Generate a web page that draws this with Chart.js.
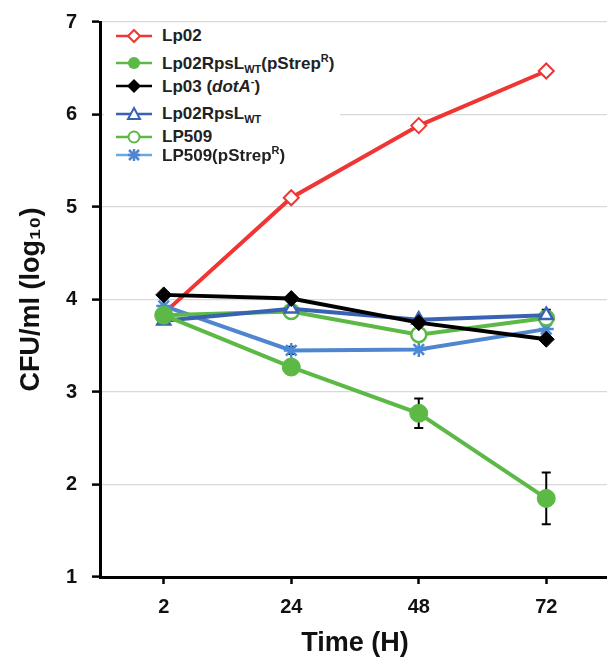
<!DOCTYPE html>
<html>
<head>
<meta charset="utf-8">
<script src="https://cdn.jsdelivr.net/npm/chart.js@4"></script>
<style>
  html, body { margin: 0; padding: 0; background: #fff; overflow: hidden; }
  #wrap { position: relative; width: 607px; height: 657px; overflow: hidden; }
  #legend {
    position: absolute; left: 104px; top: 23px; width: 236px; height: 142px;
    background: #fff; font-family: "Liberation Sans", Arial, sans-serif;
    font-weight: bold; font-size: 17px; color: #222;
  }
  .row { position: absolute; left: 12px; height: 20px; display: flex; align-items: center; white-space: nowrap; }
  .row svg { margin-right: 10px; flex: none; }
  sub, sup { font-size: 11px; }
  sub { vertical-align: -4px; }
  sup { vertical-align: 7px; }
</style>
</head>
<body>
<div id="wrap">
  <canvas id="myChart" width="620" height="657"></canvas>
  <div id="legend"></div>
</div>
<script>
// data
var timeLabels = ["2", "24", "48", "72"];
var lp02 = [3.85, 5.10, 5.88, 6.47];
var lp02RpsLStrep = [3.83, 3.27, 2.77, 1.85];
var lp02RpsLStrepErr = [0, 0.03, 0.16, 0.28];
var lp03 = [4.05, 4.01, 3.75, 3.57];
var lp02RpsL = [3.77, 3.90, 3.78, 3.83];
var lp02RpsLErr = [0, 0, 0, 0.06];
var lp509 = [3.83, 3.87, 3.62, 3.80];
var lp509Strep = [3.93, 3.45, 3.46, 3.68];
var lp509StrepErr = [0, 0.04, 0, 0];

var RED = '#f03535', GREEN = '#5cb946', BLACK = '#000', BLUE = '#3a62b4', LBLUE = '#4f86cf';

// legend rows (html so sub/superscripts work)
var legendRows = [
  { top: 3, html: 'Lp02', icon: '<path d="M18 4 L24 10 L18 16 L12 10 Z" fill="#fff" stroke="' + RED + '" stroke-width="2"/>', color: RED },
  { top: 30, html: 'Lp02RpsL<sub>WT</sub>(pStrep<sup>R</sup>)', icon: '<circle cx="18" cy="10" r="6" fill="' + GREEN + '"/>', color: GREEN },
  { top: 53, html: 'Lp03 (<i>dotA</i><sup>-</sup>)', icon: '<path d="M18 3 L25 10 L18 17 L11 10 Z" fill="#000"/>', color: BLACK },
  { top: 81, html: 'Lp02RpsL<sub>WT</sub>', icon: '<path d="M18 4 L24 15 L12 15 Z" fill="#fff" stroke="' + BLUE + '" stroke-width="2"/>', color: BLUE },
  { top: 104, html: 'LP509', icon: '<circle cx="18" cy="10" r="5.5" fill="#fff" stroke="' + GREEN + '" stroke-width="2"/>', color: GREEN },
  { top: 122, html: 'LP509(pStrep<sup>R</sup>)', icon: '<path d="M13 5 L23 15 M23 5 L13 15 M18 4 L18 16 M12 10 L24 10" stroke="' + LBLUE + '" stroke-width="2.5"/>', color: '#6aa8e0' }
];
var lg = document.getElementById('legend');
legendRows.forEach(function (r) {
  var d = document.createElement('div');
  d.className = 'row';
  d.style.top = r.top + 'px';
  d.innerHTML = '<svg width="36" height="20"><line x1="0" y1="10" x2="36" y2="10" stroke="' + r.color + '" stroke-width="2.5"/>' + r.icon + '</svg><span>' + r.html + '</span>';
  lg.appendChild(d);
});

// error bars drawn with the y scale
var errorBars = {
  id: 'errorBars',
  beforeDatasetsDraw: function (chart) {
    var ctx = chart.ctx, y = chart.scales.y;
    chart.data.datasets.forEach(function (ds, i) {
      if (!ds.errors) return;
      var meta = chart.getDatasetMeta(i);
      ctx.save();
      ctx.strokeStyle = '#000';
      ctx.lineWidth = 2;
      ds.errors.forEach(function (e, j) {
        if (!e) return;
        var x = meta.data[j].x;
        var top = y.getPixelForValue(ds.data[j] + e), bot = y.getPixelForValue(ds.data[j] - e);
        ctx.beginPath();
        ctx.moveTo(x, top); ctx.lineTo(x, bot);
        ctx.moveTo(x - 4.5, top); ctx.lineTo(x + 4.5, top);
        ctx.moveTo(x - 4.5, bot); ctx.lineTo(x + 4.5, bot);
        ctx.stroke();
      });
      ctx.restore();
    });
  }
};

var tickFont = { family: 'Liberation Sans', weight: 'bold', size: 20 };
var titleFont = { family: 'Liberation Sans', weight: 'bold', size: 27 };

var ctx = document.getElementById('myChart').getContext('2d');
var chart = new Chart(ctx, {
  type: 'line',
  data: {
    labels: timeLabels,
    datasets: [
      { label: 'Lp02', data: lp02, borderColor: RED, backgroundColor: '#fff', pointStyle: 'rectRot', pointRadius: 7.5, pointBorderWidth: 2, order: 6 },
      { label: 'Lp02RpsLWT(pStrepR)', data: lp02RpsLStrep, errors: lp02RpsLStrepErr, borderColor: GREEN, backgroundColor: GREEN, pointStyle: 'circle', pointRadius: 9, order: 1 },
      { label: 'Lp03 (dotA-)', data: lp03, borderColor: BLACK, backgroundColor: BLACK, pointStyle: 'rectRot', pointRadius: 8, order: 2 },
      { label: 'Lp02RpsLWT', data: lp02RpsL, errors: lp02RpsLErr, borderColor: BLUE, backgroundColor: '#fff', pointStyle: 'triangle', pointRadius: 7.5, pointBorderWidth: 2.5, order: 3 },
      { label: 'LP509', data: lp509, borderColor: GREEN, backgroundColor: '#fff', pointStyle: 'circle', pointRadius: 7.5, pointBorderWidth: 2.5, order: 4 },
      { label: 'LP509(pStrepR)', data: lp509Strep, errors: lp509StrepErr, borderColor: LBLUE, pointBorderColor: '#4a8ad6', backgroundColor: LBLUE, pointStyle: 'star', pointRadius: 7.5, pointBorderWidth: 2.5, order: 5 }
    ]
  },
  options: {
    responsive: false,
    animation: false,
    elements: { line: { borderWidth: 4, tension: 0 } },
    layout: { padding: { top: 22, right: 0, left: 0, bottom: 0 } },
    plugins: { legend: { display: false }, tooltip: { enabled: false } },
    scales: {
      x: {
        offset: true,
        grid: { display: true, drawOnChartArea: false, tickLength: 7, tickColor: '#000', tickWidth: 2.5 },
        border: { color: '#000', width: 3 },
        ticks: { color: '#111', padding: 11, font: tickFont },
        title: { display: true, text: 'Time (H)', color: '#111', padding: { top: 0, bottom: -3 }, font: titleFont },
        afterFit: function (s) { s.height = 80; s.paddingLeft = 0; s.paddingRight = 0; }
      },
      y: {
        min: 1, max: 7,
        ticks: { stepSize: 1, color: '#111', padding: 15, font: tickFont },
        grid: { color: '#d9d9d9', lineWidth: 1.2, tickLength: 8, tickColor: '#000', tickWidth: 2.5 },
        border: { color: '#000', width: 3 },
        title: { display: true, text: 'CFU/ml (log\u2081\u2080)', color: '#111', padding: { top: 15, bottom: 0 }, font: titleFont },
        afterFit: function (s) { s.width = 100; s.paddingTop = 0; s.paddingBottom = 0; }
      }
    }
  },
  plugins: [errorBars, {
    id: 'bg',
    beforeDraw: function (c) { c.ctx.save(); c.ctx.fillStyle = '#fff'; c.ctx.fillRect(0, 0, c.width, c.height); c.ctx.restore(); }
  }]
});
</script>
</body>
</html>
